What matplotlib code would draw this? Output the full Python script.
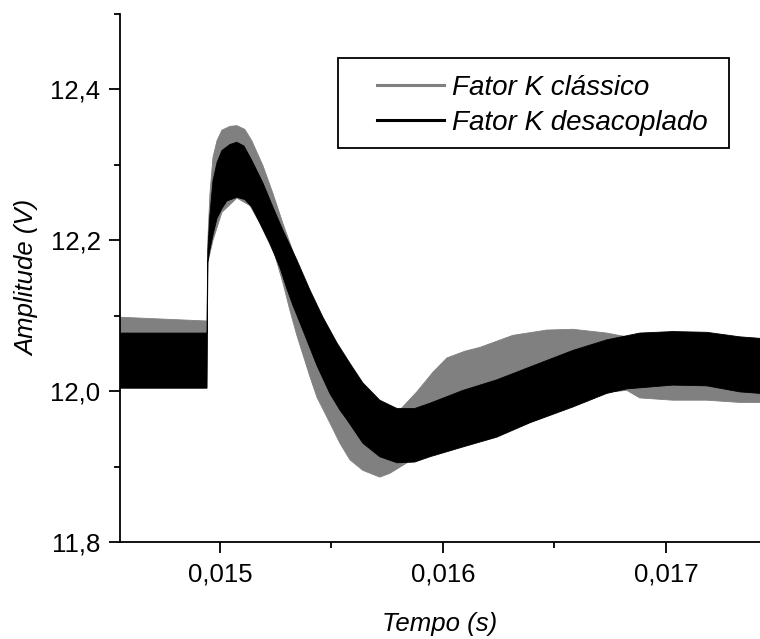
import numpy as np
import matplotlib
matplotlib.use('Agg')
import matplotlib.pyplot as plt
from matplotlib.ticker import FuncFormatter, MultipleLocator
from matplotlib.patches import Rectangle

plt.rcParams['font.family'] = ['Liberation Sans', 'DejaVu Sans']

# envelope of the ripple band, time in ms, amplitude in V
# Fator K classico (grey)
t_cls_up = [14.552, 14.942, 14.946, 14.955, 14.969, 14.987, 15.009, 15.045, 15.076,
            15.112, 15.143, 15.193, 15.238, 15.283, 15.345, 15.426, 15.507, 15.583,
            15.650, 15.717, 15.807, 15.883, 15.955, 16.018, 16.099, 16.166, 16.314,
            16.466, 16.583, 16.735, 16.825, 16.928, 17.152, 17.422]
v_cls_up = [12.098, 12.093, 12.200, 12.260, 12.310, 12.332, 12.346, 12.351, 12.352,
            12.347, 12.332, 12.299, 12.262, 12.222, 12.171, 12.110, 12.054, 12.008,
            11.981, 11.971, 11.975, 11.999, 12.025, 12.044, 12.053, 12.058, 12.074,
            12.081, 12.082, 12.077, 12.072, 12.061, 12.054, 12.054]
t_cls_lo = [14.552, 14.942, 14.946, 14.969, 15.009, 15.076, 15.135, 15.179, 15.247,
            15.283, 15.314, 15.345, 15.404, 15.435, 15.493, 15.538, 15.583, 15.641,
            15.717, 15.762, 15.839, 15.897, 16.076, 16.256, 16.435, 16.614, 16.749,
            16.825, 16.883, 17.031, 17.184, 17.332, 17.422]
v_cls_lo = [12.004, 12.004, 12.171, 12.200, 12.237, 12.256, 12.246, 12.223, 12.180,
            12.143, 12.107, 12.074, 12.019, 11.992, 11.958, 11.931, 11.909, 11.895,
            11.886, 11.891, 11.905, 11.922, 11.948, 11.962, 11.975, 11.988, 11.999,
            12.001, 11.991, 11.988, 11.988, 11.985, 11.985]

# Fator K desacoplado (black)
t_dec_up = [14.552, 14.942, 14.946, 14.955, 14.969, 14.987, 15.009, 15.045, 15.076,
            15.108, 15.143, 15.193, 15.238, 15.283, 15.345, 15.404, 15.462, 15.525,
            15.583, 15.641, 15.717, 15.794, 15.874, 15.942, 16.090, 16.242, 16.390,
            16.583, 16.735, 16.883, 17.031, 17.184, 17.332, 17.422]
v_dec_up = [12.077, 12.077, 12.187, 12.233, 12.279, 12.303, 12.319, 12.327, 12.330,
            12.325, 12.306, 12.276, 12.244, 12.213, 12.174, 12.134, 12.098, 12.064,
            12.037, 12.011, 11.988, 11.977, 11.977, 11.984, 12.001, 12.015, 12.032,
            12.054, 12.068, 12.077, 12.079, 12.078, 12.072, 12.070]
t_dec_lo = [14.552, 14.942, 14.946, 14.955, 14.969, 14.987, 15.009, 15.031, 15.076,
            15.112, 15.143, 15.179, 15.224, 15.269, 15.300, 15.327, 15.372, 15.435,
            15.493, 15.538, 15.570, 15.641, 15.717, 15.794, 15.874, 15.942, 16.090,
            16.242, 16.390, 16.583, 16.735, 16.825, 17.031, 17.184, 17.332, 17.422]
v_dec_lo = [12.004, 12.004, 12.171, 12.187, 12.207, 12.229, 12.242, 12.252, 12.257,
            12.254, 12.244, 12.223, 12.196, 12.164, 12.136, 12.114, 12.081, 12.034,
            11.997, 11.975, 11.962, 11.931, 11.913, 11.905, 11.906, 11.913, 11.926,
            11.939, 11.958, 11.979, 11.997, 12.003, 12.008, 12.007, 11.999, 11.997]

labels = ['Fator K clássico', 'Fator K desacoplado']
colors = ['#808080', '#000000']


def band(ax, t_up, v_up, t_lo, v_lo, color):
    tu = np.array(t_up) * 1e-3
    tl = np.array(t_lo) * 1e-3
    xs = np.concatenate([tu, tl[::-1]])
    ys = np.concatenate([v_up, v_lo[::-1]])
    ax.fill(xs, ys, color=color, lw=0.6, ec=color)


fig = plt.figure(figsize=(7.6, 6.39), dpi=100)
ax = fig.add_axes([120 / 760, 1 - 542 / 639, 640 / 760, 528 / 639])

band(ax, t_cls_up, v_cls_up, t_cls_lo, v_cls_lo, colors[0])
band(ax, t_dec_up, v_dec_up, t_dec_lo, v_dec_lo, colors[1])

ax.set_xlim(0.014552, 0.017422)
ax.set_ylim(11.8, 12.5)

for s in ['top', 'right']:
    ax.spines[s].set_visible(False)
for s in ['left', 'bottom']:
    ax.spines[s].set_linewidth(1.3)

ax.xaxis.set_major_locator(MultipleLocator(0.001))
ax.xaxis.set_minor_locator(MultipleLocator(0.0005))
ax.yaxis.set_major_locator(MultipleLocator(0.2))
ax.yaxis.set_minor_locator(MultipleLocator(0.1))
ax.xaxis.set_major_formatter(FuncFormatter(lambda v, p: f'{v:.3f}'.replace('.', ',')))
ax.yaxis.set_major_formatter(FuncFormatter(lambda v, p: f'{v:.1f}'.replace('.', ',')))

ax.tick_params(which='major', direction='out', length=8, width=1.3, labelsize=18.5)
ax.tick_params(which='minor', direction='out', length=4.5, width=1.3)
ax.tick_params(axis='x', which='major', pad=7)
ax.tick_params(axis='y', which='major', pad=6)

ax.set_xlabel('Tempo (s)', fontsize=18.5, style='italic', labelpad=18)
ax.set_ylabel('Amplitude (V)', fontsize=18.5, style='italic', labelpad=8)

# legend with a hand-drawn frame
handles = [plt.Line2D([], [], color=c, lw=2.2) for c in colors]
fig.legend(handles, labels, loc='upper left',
           bbox_to_anchor=(377 / 760, 1 - 75 / 639), frameon=False,
           borderpad=0, borderaxespad=0, handlelength=2.4, handletextpad=0.3,
           labelspacing=0.33, prop={'size': 20, 'style': 'italic'})
fig.patches.append(Rectangle((338 / 760, 1 - 148 / 639), 391 / 760, 90 / 639,
                             transform=fig.transFigure, fill=False, lw=1.3,
                             ec='black'))

fig.savefig('out.png', dpi=100)
